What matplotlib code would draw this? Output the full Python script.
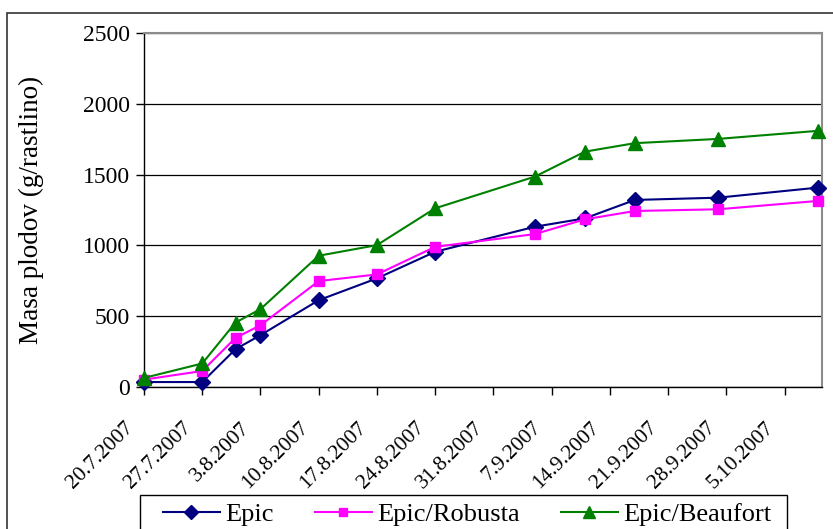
import datetime as dt

import matplotlib
matplotlib.use("Agg")
import matplotlib.pyplot as plt
import matplotlib.transforms as mtransforms
from matplotlib.patches import Rectangle
from matplotlib.lines import Line2D

plt.rcParams.update({
    "font.family": "serif",
    "font.serif": ["Liberation Serif", "DejaVu Serif"],
})

# sampling dates (day, month) in 2007
sample_dates = [(20, 7), (27, 7), (31, 7), (3, 8), (10, 8), (17, 8), (24, 8),
                (5, 9), (11, 9), (17, 9), (27, 9), (9, 10)]
epic = [35, 35, 267, 366, 613, 767, 955, 1132, 1191, 1321, 1337, 1408]
epic_robusta = [52, 113, 347, 436, 748, 795, 990, 1080, 1184, 1243, 1255, 1314]
epic_beaufort = [64, 166, 455, 550, 927, 1002, 1262, 1486, 1662, 1722, 1752, 1809]

series = [
    ("Epic", epic, "#000080", "D", 8.5),
    ("Epic/Robusta", epic_robusta, "#FF00FF", "s", 7.5),
    ("Epic/Beaufort", epic_beaufort, "#008000", "^", 9.5),
]

dates = [dt.datetime(2007, m, d) for d, m in sample_dates]
x_start = dt.datetime(2007, 7, 20)
x_end = x_start + dt.timedelta(days=81.5)

W, H = 833, 529
fig = plt.figure(figsize=(W / 100, H / 100), dpi=100)
ax = fig.add_axes([144 / W, 1 - 387 / H, (822 - 144) / W, (387 - 33) / H])

for label, vals, col, mk, ms in series:
    ax.plot(dates, vals, color=col, marker=mk, markersize=ms, linewidth=1.5,
            markeredgecolor=col, label=label, clip_on=False, zorder=3)

ax.set_xlim(x_start, x_end)
ax.set_ylim(0, 2500)
ax.set_yticks(range(0, 2501, 500))
ax.grid(True, axis="y", color="#000000", linewidth=0.9)
ax.set_axisbelow(True)

# weekly date ticks, labels slanted and pulled down-left of each tick
ticks = [x_start + dt.timedelta(days=7 * i) for i in range(12)]
ax.set_xticks(ticks)
ax.set_xticklabels([f"{t.day}.{t.month}.{t.year}" for t in ticks],
                   rotation=45, ha="right", va="top", rotation_mode="anchor",
                   fontsize=15.5)
ax.tick_params(axis="x", direction="out", length=6, width=1, pad=0)
ax.tick_params(axis="y", direction="out", length=6, width=1, labelsize=17, pad=4)
shift = mtransforms.ScaledTranslation(-20 / 100, -23 / 100, fig.dpi_scale_trans)
for lbl in ax.get_xticklabels():
    lbl.set_transform(lbl.get_transform() + shift)

for side in ("top", "right"):
    ax.spines[side].set_color("#8c8c8c")
    ax.spines[side].set_linewidth(1.5)
for side in ("left", "bottom"):
    ax.spines[side].set_color("#000000")
    ax.spines[side].set_linewidth(1.0)

ax.set_ylabel("Masa plodov (g/rastlino)", fontsize=19.5, va="center")
ax.yaxis.set_label_coords((31 - 144) / 678, 0.5)

# outer chart border
fig.patches.append(Rectangle((7 / W, -0.2), 1.2, 0.2 + 1 - 13 / H,
                             transform=fig.transFigure, fill=False,
                             edgecolor="#333333", linewidth=1.2))

# legend box, running off the bottom edge
fig.patches.append(Rectangle((140 / W, -0.1), (787 - 140) / W, 0.1 + 1 - 495 / H,
                             transform=fig.transFigure, fill=False,
                             edgecolor="#000000", linewidth=1.0))

handles = [Line2D([], [], color=col, marker=mk, markersize=ms - 1.5, linewidth=1.5)
           for _, _, col, mk, ms in series]
fig.legend(handles, [s[0] for s in series], loc="upper left",
           bbox_to_anchor=(163 / W, 1 - 503 / H), ncol=3,
           fontsize=19, frameon=False, handlelength=2.15,
           columnspacing=1.55, handletextpad=0.22, borderpad=0,
           borderaxespad=0)

fig.savefig("out.png", dpi=100)
